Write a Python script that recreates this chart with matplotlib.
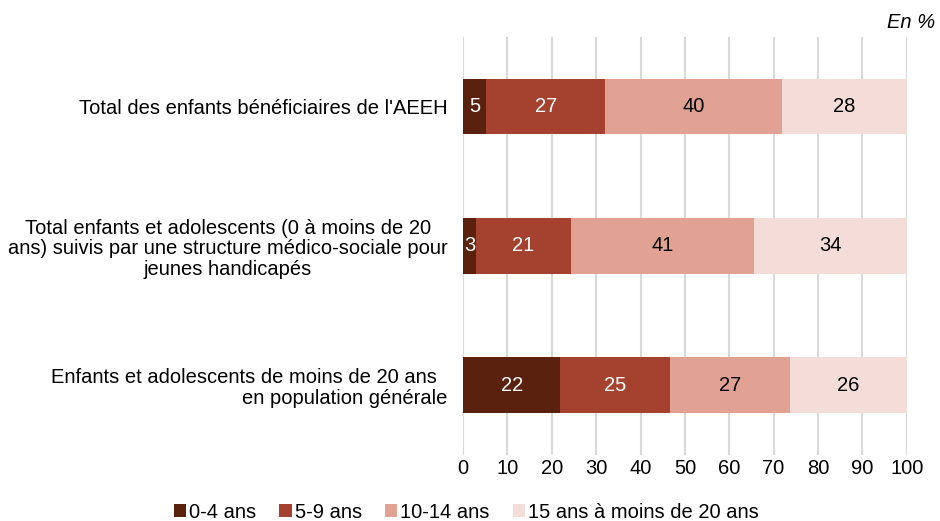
import numpy as np
import matplotlib.pyplot as plt
from matplotlib.patches import Patch

plt.rcParams['font.family'] = ['Liberation Sans', 'DejaVu Sans']

categories = [
    "Total des enfants bénéficiaires de l'AEEH",
    "Total enfants et adolescents (0 à moins de 20\nans) suivis par une structure médico-sociale pour\njeunes handicapés",
    "Enfants et adolescents de moins de 20 ans  \nen population générale",
]
label_align = ['right', 'center', 'right']

age_groups = ["0-4 ans", "5-9 ans", "10-14 ans", "15 ans à moins de 20 ans"]
ans_0_4 = [5.2, 2.9, 21.9]
ans_5_9 = [26.9, 21.4, 24.8]
ans_10_14 = [39.9, 41.3, 26.9]
ans_15_19 = [28.0, 34.4, 26.4]

colors = ['#59210e', '#a4422f', '#e1a193', '#f4ddd8']
text_colors = ['white', 'white', 'black', 'black']
FS = 14.5

fig = plt.figure(figsize=(9.4, 5.21), dpi=100)
ax = fig.add_axes([0.4926, 0.127, 0.4720, 0.802])

y = np.arange(len(categories))
left = np.zeros(len(categories))
for vals, col, tcol in zip([ans_0_4, ans_5_9, ans_10_14, ans_15_19], colors, text_colors):
    vals = np.array(vals)
    ax.barh(y, vals, left=left, height=0.4, color=col, edgecolor='none', zorder=3)
    for yi, l, v in zip(y, left, vals):
        ax.text(l + v / 2, yi, '%.0f' % v, ha='center', va='center',
                color=tcol, fontsize=FS, zorder=4)
    left += vals

ax.set_xlim(0, 100)
ax.set_ylim(2.5, -0.5)
ax.set_xticks(np.arange(0, 101, 10))
ax.xaxis.grid(True, color='#d9d9d9', linewidth=1.5, zorder=0)
ax.set_axisbelow(True)
for s in ax.spines.values():
    s.set_visible(False)
ax.tick_params(axis='both', length=0, labelsize=FS)
ax.tick_params(axis='x', pad=3)
ax.tick_params(axis='y', pad=11)
ax.set_yticks(y)
ax.set_yticklabels(categories)
for lab, al in zip(ax.get_yticklabels(), label_align):
    lab.set_multialignment(al)
    lab.set_linespacing(1.1)

fig.text(0.995, 0.957, 'En %', ha='right', va='center', fontsize=FS, style='italic')

handles = [Patch(facecolor=c, edgecolor='none') for c in colors]
fig.legend(handles, age_groups, loc='center', bbox_to_anchor=(0.496, 0.017),
           ncol=4, frameon=False, fontsize=FS, handlelength=0.6, handleheight=0.6,
           handletextpad=0.15, columnspacing=1.15, borderaxespad=0)

fig.savefig('out.png', dpi=100)
